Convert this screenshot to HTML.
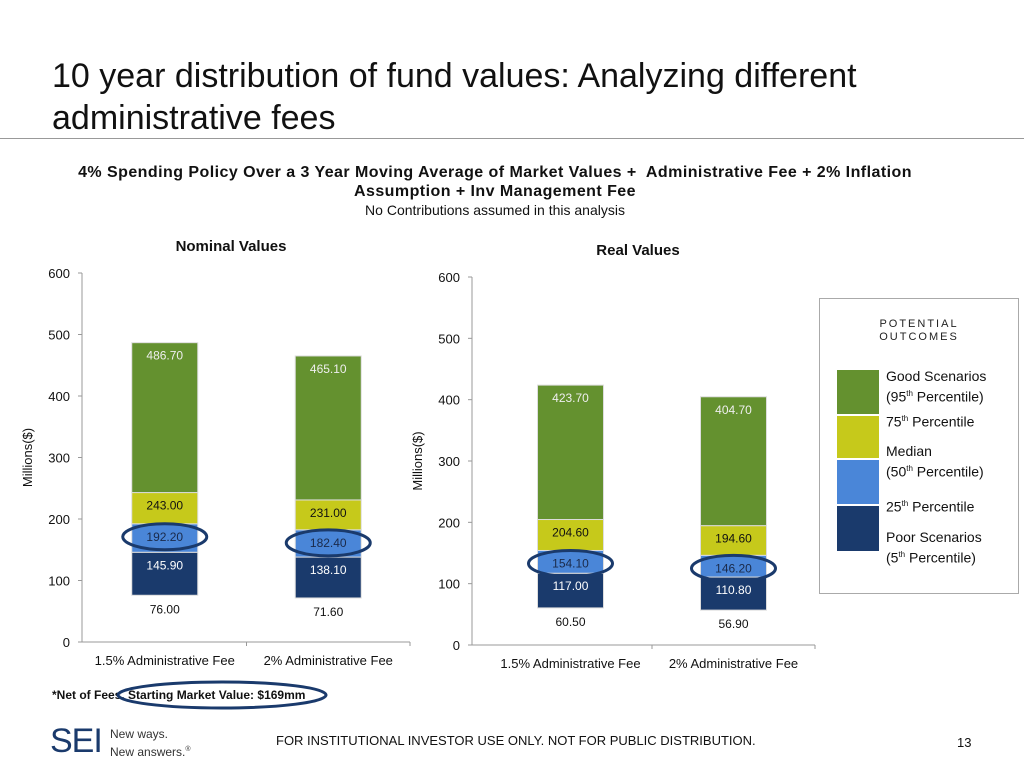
<!DOCTYPE html>
<html><head><meta charset="utf-8"><style>
body{margin:0;width:1024px;height:768px;background:#fff;font-family:"Liberation Sans",Arial,sans-serif;overflow:hidden;position:relative}
.abs{position:absolute}
</style></head><body>
<div class="abs" style="left:52px;top:55px;font-size:34px;line-height:42px;color:#111">10 year distribution of fund values: Analyzing different<br>administrative fees</div>
<div class="abs" style="left:0;top:138px;width:1024px;height:1px;background:#999"></div>
<div class="abs" style="left:40px;width:910px;top:163px;text-align:center;font-size:16px;letter-spacing:0.45px;line-height:19px;font-weight:bold;color:#111">4% Spending Policy Over a 3 Year Moving Average of Market Values +&nbsp; Administrative Fee + 2% Inflation<br>Assumption + Inv Management Fee<br><span style="font-weight:normal;font-size:14px;letter-spacing:0">No Contributions assumed in this analysis</span></div>
<svg class="abs" style="left:0;top:0" width="1024" height="768" id="chart"></svg>
<div class="abs" style="left:819px;top:298px;width:200px;height:296px;border:1px solid #aaa;box-sizing:border-box">
 <div style="position:absolute;left:0;width:100%;top:19px;text-align:center;font-size:11px;letter-spacing:2px;line-height:13px;color:#222">POTENTIAL<br>OUTCOMES</div>
 <div style="position:absolute;left:17px;top:71px;width:42px;height:44px;background:#64912f"></div>
 <div style="position:absolute;left:17px;top:117px;width:42px;height:42px;background:#c6c91b"></div>
 <div style="position:absolute;left:17px;top:161px;width:42px;height:44px;background:#4a86d8"></div>
 <div style="position:absolute;left:17px;top:207px;width:42px;height:45px;background:#1a3a6c"></div>
 <div style="position:absolute;left:66px;top:68px;font-size:14px;line-height:18px;color:#111">
  <div>Good Scenarios<br>(95<sup style="font-size:8px">th</sup> Percentile)</div>
  <div style="margin-top:4px">75<sup style="font-size:8px">th</sup> Percentile</div>
  <div style="margin-top:12px">Median<br>(50<sup style="font-size:8px">th</sup> Percentile)</div>
  <div style="margin-top:14px">25<sup style="font-size:8px">th</sup> Percentile</div>
  <div style="margin-top:12px">Poor Scenarios<br>(5<sup style="font-size:8px">th</sup> Percentile)</div>
 </div>
</div>
<div class="abs" style="left:52px;top:688px;font-size:12px;font-weight:bold;color:#111">*Net of Fees. Starting Market Value: $169mm</div>
<svg class="abs" style="left:0;top:0" width="1024" height="768"><ellipse cx="222" cy="695" rx="104" ry="13" fill="none" stroke="#1a3a6c" stroke-width="3"/></svg>
<div class="abs" style="left:50px;top:722px;font-size:34px;color:#1a3a6c;letter-spacing:-1px">SEI</div>
<div class="abs" style="left:110px;top:727px;font-size:12px;line-height:15px;color:#333">New ways.<br>New answers.<sup style="font-size:7px">®</sup></div>
<div class="abs" style="left:276px;top:733px;font-size:13px;color:#111">FOR INSTITUTIONAL INVESTOR USE ONLY. NOT FOR PUBLIC DISTRIBUTION.</div>
<div class="abs" style="left:957px;top:735px;font-size:13px;color:#111">13</div>
<script>
const categories=["1.5% Administrative Fee","2% Administrative Fee"];
const yTicks=[0,100,200,300,400,500,600];
const nomP5=[76.00,71.60];
const nomP25=[145.90,138.10];
const nomP50=[192.20,182.40];
const nomP75=[243.00,231.00];
const nomP95=[486.70,465.10];
const realP5=[60.50,56.90];
const realP25=[117.00,110.80];
const realP50=[154.10,146.20];
const realP75=[204.60,194.60];
const realP95=[423.70,404.70];
const NS="http://www.w3.org/2000/svg";
const svg=document.getElementById('chart');
function mk(t,a,txt){const e=document.createElementNS(NS,t);for(const k in a)e.setAttribute(k,a[k]);if(txt!=null)e.textContent=txt;svg.appendChild(e);return e;}
function draw(cfg,p5,p25,p50,p75,p95){
 const y=v=>cfg.y0-(v/600)*(cfg.y0-cfg.y600);
 const xc=i=>cfg.bandStart+cfg.band*(i+0.5);
 let e=mk('text',{x:cfg.titleX,y:cfg.titleY,'text-anchor':'middle','font-size':15,'font-weight':'bold',fill:'#111'},cfg.title);
 
 e=mk('line',{x1:cfg.ax,y1:cfg.y600,x2:cfg.ax,y2:cfg.y0,stroke:'#999'});
 
 e=mk('line',{x1:cfg.ax,y1:cfg.y0,x2:cfg.axEnd,y2:cfg.y0,stroke:'#999'});
 
 yTicks.forEach(t=>{
  mk('line',{x1:cfg.ax-4,y1:y(t),x2:cfg.ax,y2:y(t),stroke:'#999'});
  e=mk('text',{x:cfg.ax-12,y:y(t)+5,'text-anchor':'end','font-size':13,fill:'#111'},String(t));
  
 });
 const yt=(cfg.y0+cfg.y600)/2;
 e=mk('text',{x:cfg.ax-50,y:yt,'text-anchor':'middle','font-size':13,fill:'#111',transform:`rotate(-90 ${cfg.ax-50} ${yt})`},'Millions($)');
 
 for(let k=0;k<=categories.length;k++){const xx=cfg.bandStart+cfg.band*k;if(k>0)mk('line',{x1:xx,y1:cfg.y0,x2:xx,y2:cfg.y0+4,stroke:'#999'});}
 categories.forEach((c,i)=>{
  const cx=xc(i),w=66,x=cx-w/2;
  const segs=[[p5[i],p25[i],'#1a3a6c','#fff','p5-25'],[p25[i],p50[i],'#4a86d8','#1a2a4a','p25-50'],[p50[i],p75[i],'#c6c91b','#111','p50-75'],[p75[i],p95[i],'#64912f','#eee','p75-95']];
  segs.forEach(s=>{
   e=mk('rect',{x:x,y:y(s[1]),width:w,height:y(s[0])-y(s[1]),fill:s[2],stroke:'#ddd','stroke-width':1});
   
   e=mk('text',{x:cx,y:y(s[1])+17,'text-anchor':'middle','font-size':12,fill:s[3]},s[1].toFixed(2));
   
  });
  e=mk('text',{x:cx,y:y(p5[i])+18,'text-anchor':'middle','font-size':12,fill:'#111'},p5[i].toFixed(2));
  
  e=mk('ellipse',{cx:cx,cy:y(p50[i])+13,rx:42,ry:13,fill:'none',stroke:'#1a3a6c','stroke-width':3});
  
  e=mk('text',{x:cx,y:cfg.y0+23,'text-anchor':'middle','font-size':13,fill:'#111'},c);
  
 });
}
draw({id:'nominal',title:'Nominal Values',titleX:231,titleY:251,ax:82,axEnd:410,y0:642,y600:273,bandStart:83,band:163.5},nomP5,nomP25,nomP50,nomP75,nomP95);
draw({id:'real',title:'Real Values',titleX:638,titleY:255,ax:472,axEnd:815,y0:645,y600:277,bandStart:489,band:163},realP5,realP25,realP50,realP75,realP95);
</script>
</body></html>
